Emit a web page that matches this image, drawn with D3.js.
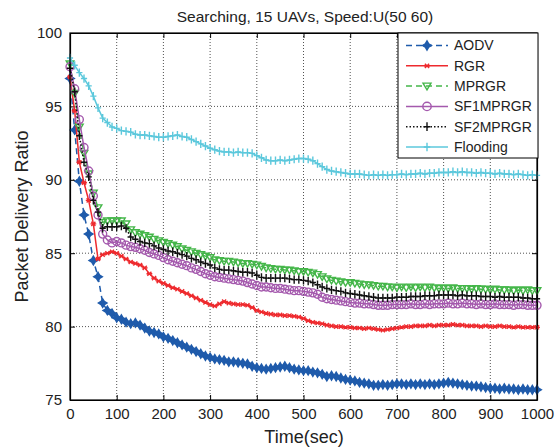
<!DOCTYPE html>
<html>
<head>
<meta charset="utf-8">
<script src="https://cdn.jsdelivr.net/npm/d3@7"></script>
<style>
  body { margin: 0; background: #fff; }
  svg text { font-family: "Liberation Sans", Arial, Helvetica, sans-serif; fill: #222; }
</style>
</head>
<body>
<div id="chart"></div>
<script>
// sample times (sec), one point every 10 s
const times = d3.range(0, 1001, 10);

const aodv = [96.9, 93.4, 89.9, 87.6, 86.3, 84.5, 83.4, 81.6, 81.1, 80.9,
  80.6, 80.5, 80.3, 80.2, 80.25, 80.1, 79.9, 79.7, 79.6, 79.5,
  79.3, 79.2, 79.05, 78.9, 78.75, 78.6, 78.45, 78.3, 78.15, 78.0,
  77.9, 77.8, 77.75, 77.7, 77.6, 77.6, 77.55, 77.5, 77.45, 77.3,
  77.2, 77.15, 77.1, 77.15, 77.2, 77.25, 77.3, 77.2, 77.1, 77.05,
  77.0, 77.0, 76.9, 76.85, 76.75, 76.6, 76.65, 76.6, 76.5, 76.4,
  76.35, 76.3, 76.2, 76.15, 76.1, 76.0, 76.0, 76.05, 76.0, 76.05,
  76.1, 76.1, 76.05, 76.1, 76.05, 76.1, 76.05, 76.1, 76.05, 76.1,
  76.15, 76.2, 76.15, 76.1, 76.05, 76.0, 75.95, 75.95, 75.9, 75.85,
  75.8, 75.8, 75.75, 75.8, 75.75, 75.75, 75.7, 75.75, 75.7, 75.7, 75.7];

const rgr = [97.0, 94.7, 91.2, 89.8, 88.6, 87.0, 84.6, 84.9, 85.0, 85.1,
  85.0, 84.8, 84.6, 84.4, 84.3, 84.2, 84.0, 83.6, 83.3, 83.1,
  82.95, 82.8, 82.65, 82.55, 82.4, 82.25, 82.1, 81.95, 81.8, 81.65,
  81.5, 81.4, 81.55, 81.7, 81.6, 81.55, 81.5, 81.5, 81.45, 81.3,
  81.1, 81.0, 80.9, 80.85, 80.8, 80.8, 80.75, 80.75, 80.7, 80.65,
  80.55, 80.4, 80.3, 80.25, 80.2, 80.1, 80.05, 80.0, 80.0, 79.95,
  79.95, 79.9, 79.9, 79.85, 79.9, 79.85, 79.8, 79.75, 79.8, 79.85,
  79.9, 79.95, 80.0, 80.0, 80.05, 80.05, 80.05, 80.1, 80.05, 80.1,
  80.1, 80.1, 80.15, 80.1, 80.1, 80.05, 80.05, 80.05, 80.0, 80.05,
  80.0, 80.0, 80.05, 80.0, 80.0, 79.95, 80.0, 79.95, 79.95, 79.95, 79.95];

const mprgr = [97.9, 95.9, 93.6, 91.8, 90.4, 89.1, 88.1, 87.1, 87.2, 87.2,
  87.2, 87.2, 87.0, 86.6, 86.4, 86.3, 86.2, 86.1, 85.95, 85.85,
  85.75, 85.65, 85.55, 85.45, 85.3, 85.2, 85.1, 85.0, 84.9, 84.8,
  84.7, 84.55, 84.5, 84.45, 84.45, 84.4, 84.35, 84.3, 84.3, 84.25,
  84.2, 84.1, 84.0, 83.95, 83.9, 83.9, 83.85, 83.85, 83.8, 83.75,
  83.75, 83.7, 83.65, 83.55, 83.4, 83.25, 83.15, 83.1, 83.05, 83.0,
  83.0, 82.95, 82.9, 82.85, 82.85, 82.8, 82.75, 82.75, 82.7, 82.7,
  82.65, 82.7, 82.65, 82.7, 82.65, 82.7, 82.65, 82.7, 82.65, 82.6,
  82.65, 82.6, 82.65, 82.6, 82.6, 82.6, 82.55, 82.6, 82.55, 82.55,
  82.5, 82.55, 82.5, 82.5, 82.5, 82.45, 82.5, 82.45, 82.5, 82.45, 82.45];

const sf1mprgr = [97.7, 96.2, 94.1, 92.2, 90.6, 88.9, 87.6, 86.3, 85.9, 85.7,
  85.8, 85.7, 85.55, 85.45, 85.4, 85.3, 85.2, 85.05, 84.95, 84.85,
  84.7, 84.55, 84.45, 84.35, 84.25, 84.15, 84.0, 83.9, 83.75, 83.6,
  83.5, 83.4, 83.35, 83.3, 83.25, 83.2, 83.15, 83.1, 83.0, 82.9,
  82.8, 82.7, 82.7, 82.65, 82.6, 82.6, 82.55, 82.5, 82.45, 82.45,
  82.4, 82.35, 82.3, 82.2, 82.0, 81.9, 81.85, 81.8, 81.75, 81.7,
  81.65, 81.6, 81.6, 81.55, 81.55, 81.5, 81.45, 81.45, 81.45, 81.5,
  81.5, 81.5, 81.5, 81.55, 81.5, 81.5, 81.55, 81.5, 81.55, 81.55,
  81.55, 81.6, 81.55, 81.55, 81.6, 81.55, 81.55, 81.5, 81.55, 81.5,
  81.5, 81.55, 81.5, 81.5, 81.5, 81.45, 81.5, 81.5, 81.45, 81.45, 81.45];

const sf2mprgr = [97.6, 96.0, 93.0, 91.2, 90.2, 88.6, 87.8, 86.7, 86.8, 86.8,
  86.8, 86.85, 86.7, 86.1, 85.95, 85.8, 85.7, 85.65, 85.5, 85.35,
  85.25, 85.15, 85.1, 85.0, 84.9, 84.8, 84.65, 84.55, 84.4, 84.3,
  84.2, 84.0, 83.9, 83.85, 83.85, 83.8, 83.75, 83.7, 83.7, 83.65,
  83.5, 83.35, 83.3, 83.3, 83.3, 83.3, 83.3, 83.25, 83.2, 83.2,
  83.15, 83.1, 83.0, 82.85, 82.7, 82.6, 82.5, 82.45, 82.4, 82.3,
  82.25, 82.2, 82.15, 82.1, 82.05, 82.0, 81.95, 81.95, 81.95, 81.95,
  82.0, 82.0, 82.0, 82.05, 82.05, 82.05, 82.1, 82.1, 82.1, 82.15,
  82.15, 82.15, 82.15, 82.1, 82.15, 82.1, 82.1, 82.1, 82.05, 82.05,
  82.05, 82.0, 82.05, 82.0, 82.0, 82.0, 82.0, 81.95, 81.95, 81.9, 81.9];

const flooding = [98.3, 97.8, 97.3, 96.9, 96.4, 95.7, 94.9, 94.2, 93.9, 93.6,
  93.5, 93.35, 93.3, 93.25, 93.1, 93.05, 93.05, 93.0, 92.95, 92.9,
  92.9, 92.95, 93.0, 93.05, 92.95, 92.9, 92.75, 92.6, 92.45, 92.3,
  92.15, 92.05, 91.95, 91.9, 91.9, 91.85, 91.9, 91.85, 91.85, 91.8,
  91.65, 91.5, 91.35, 91.3, 91.3, 91.35, 91.3, 91.35, 91.4, 91.45,
  91.45, 91.4, 91.3, 91.1, 90.9, 90.7, 90.6, 90.55, 90.5, 90.45,
  90.4, 90.4, 90.4, 90.35, 90.3, 90.35, 90.3, 90.35, 90.3, 90.35,
  90.35, 90.4, 90.35, 90.4, 90.4, 90.45, 90.4, 90.45, 90.45, 90.5,
  90.5, 90.5, 90.55, 90.5, 90.55, 90.5, 90.5, 90.45, 90.5, 90.45,
  90.45, 90.4, 90.45, 90.4, 90.4, 90.35, 90.4, 90.35, 90.3, 90.35, 90.3];

const seriesNames = ["AODV", "RGR", "MPRGR", "SF1MPRGR", "SF2MPRGR", "Flooding"];
const xTicks = [0, 100, 200, 300, 400, 500, 600, 700, 800, 900, 1000];
const yTicks = [75, 80, 85, 90, 95, 100];

const width = 559;
const height = 448;
const margin = { top: 33, right: 22, bottom: 48, left: 70 };

// custom stroke symbols (d3 symbol type interface)
const plusSym = {
  draw(ctx, size) {
    const r = Math.sqrt(size) / 2;
    ctx.moveTo(-r * 0.75, 0); ctx.lineTo(r * 0.75, 0);
    ctx.moveTo(0, -r); ctx.lineTo(0, r);
  }
};
const starSym = {
  draw(ctx, size) {
    const r = Math.sqrt(size) / 2;
    ctx.moveTo(-r, 0); ctx.lineTo(r, 0);
    ctx.moveTo(-r * 0.7, -r * 0.7); ctx.lineTo(r * 0.7, r * 0.7);
    ctx.moveTo(-r * 0.7, r * 0.7); ctx.lineTo(r * 0.7, -r * 0.7);
  }
};
const triDown = {
  draw(ctx, size) {
    const r = Math.sqrt(size) / 2;
    ctx.moveTo(-r, -r * 0.75); ctx.lineTo(r, -r * 0.75); ctx.lineTo(0, r * 0.95); ctx.closePath();
  }
};
// small filled four-point star, like the matlab diamond/star mix
const diamondStar = {
  draw(ctx, size) {
    const r = Math.sqrt(size) / 2;
    const k = r * 0.38;
    ctx.moveTo(0, -r); ctx.lineTo(k, -k); ctx.lineTo(r, 0); ctx.lineTo(k, k);
    ctx.lineTo(0, r); ctx.lineTo(-k, k); ctx.lineTo(-r, 0); ctx.lineTo(-k, -k);
    ctx.closePath();
  }
};

const styles = {
  AODV:     { color: "#1f5bab", dash: "6,4", sym: diamondStar, size: 75, fill: true, sw: 1.5 },
  RGR:      { color: "#ee2a2e", dash: null, sym: starSym, size: 34, fill: false, sw: 1.5 },
  MPRGR:    { color: "#44b649", dash: "6,4", sym: triDown, size: 58, fill: false, sw: 1.5 },
  SF1MPRGR: { color: "#a459ad", dash: null, sym: d3.symbolCircle, size: 50, fill: false, sw: 1.5 },
  SF2MPRGR: { color: "#111111", dash: "1.5,2", sym: plusSym, size: 70, fill: false, sw: 1.5 },
  Flooding: { color: "#5cc8dc", dash: null, sym: plusSym, size: 68, fill: false, sw: 1.5 },
};

const seriesData = [aodv, rgr, mprgr, sf1mprgr, sf2mprgr, flooding].map((vals, i) => ({
  name: seriesNames[i],
  values: vals.map((v, j) => ({ t: times[j], v: v })),
}));

const svg = d3.select("#chart").append("svg")
  .attr("width", width).attr("height", height);

const x = d3.scaleLinear().domain([0, 1000]).range([margin.left, width - margin.right]);
const y = d3.scaleLinear().domain([75, 100]).range([height - margin.bottom, margin.top]);

// grid
const grid = svg.append("g").attr("stroke", "#000").attr("stroke-width", 0.8)
  .attr("stroke-dasharray", "1,2").attr("opacity", 0.85);
grid.selectAll(".gx").data(xTicks.slice(1, -1)).enter().append("line")
  .attr("x1", (d) => x(d)).attr("x2", (d) => x(d))
  .attr("y1", y(75)).attr("y2", y(100));
grid.selectAll(".gy").data(yTicks.slice(1, -1)).enter().append("line")
  .attr("x1", x(0)).attr("x2", x(1000))
  .attr("y1", (d) => y(d)).attr("y2", (d) => y(d));

// axes
const xAxis = svg.append("g").attr("transform", `translate(0,${y(75)})`)
  .call(d3.axisBottom(x).tickValues(xTicks).tickFormat(d3.format("d"))
    .tickSizeInner(-5).tickSizeOuter(0).tickPadding(8));
const yAxis = svg.append("g").attr("transform", `translate(${x(0)},0)`)
  .call(d3.axisLeft(y).tickValues(yTicks).tickSizeInner(-5).tickSizeOuter(0).tickPadding(8));
svg.append("g").attr("transform", `translate(0,${y(100)})`)
  .call(d3.axisTop(x).tickValues(xTicks).tickSizeInner(-5).tickSizeOuter(0).tickFormat(""));
svg.append("g").attr("transform", `translate(${x(1000)},0)`)
  .call(d3.axisRight(y).tickValues(yTicks).tickSizeInner(-5).tickSizeOuter(0).tickFormat(""));
svg.selectAll(".domain").attr("stroke", "#000").attr("stroke-width", 1.2);
svg.selectAll(".tick line").attr("stroke", "#000");
xAxis.selectAll("text").attr("font-size", 15).attr("fill", "#222");
yAxis.selectAll("text").attr("font-size", 15).attr("fill", "#222");

// series
const line = d3.line().x((d) => x(d.t)).y((d) => y(d.v));
const plot = svg.append("g");
seriesData.forEach((s) => {
  const st = styles[s.name];
  plot.append("path").datum(s.values)
    .attr("d", line).attr("fill", "none")
    .attr("stroke", st.color).attr("stroke-width", st.sw)
    .attr("stroke-dasharray", st.dash);
  plot.append("g").selectAll("path").data(s.values).enter().append("path")
    .attr("transform", (d) => `translate(${x(d.t)},${y(d.v)})`)
    .attr("d", d3.symbol(st.sym, st.size))
    .attr("fill", st.fill ? st.color : "none")
    .attr("stroke", st.color).attr("stroke-width", 1.4);
});

// frame on top
svg.append("rect").attr("x", x(0)).attr("y", y(100))
  .attr("width", x(1000) - x(0)).attr("height", y(75) - y(100))
  .attr("fill", "none").attr("stroke", "#000").attr("stroke-width", 1.2);

// legend
const legend = svg.append("g").attr("transform", "translate(398,33)");
legend.append("rect").attr("width", 140).attr("height", 125)
  .attr("fill", "#fff").attr("stroke", "#000").attr("stroke-width", 1);
seriesNames.forEach((name, i) => {
  const st = styles[name];
  const ly = 12.5 + i * 20.3;
  legend.append("line").attr("x1", 8).attr("x2", 50).attr("y1", ly).attr("y2", ly)
    .attr("stroke", st.color).attr("stroke-width", st.sw).attr("stroke-dasharray", st.dash);
  legend.append("path").attr("transform", `translate(29,${ly})`)
    .attr("d", d3.symbol(st.sym, st.size * 1.1))
    .attr("fill", st.fill ? st.color : "none")
    .attr("stroke", st.color).attr("stroke-width", 1.4);
  legend.append("text").attr("x", 56).attr("y", ly).attr("dy", "0.35em")
    .attr("font-size", 14).text(name);
});

// titles
svg.append("text").attr("x", 305).attr("y", 22).attr("text-anchor", "middle")
  .attr("font-size", 15.5).text("Searching, 15 UAVs, Speed:U(50 60)");
svg.append("text").attr("x", 304).attr("y", 443).attr("text-anchor", "middle")
  .attr("font-size", 18).text("Time(sec)");
svg.append("text").attr("transform", `translate(28,${(y(75) + y(100)) / 2}) rotate(-90)`)
  .attr("text-anchor", "middle").attr("font-size", 18).text("Packet Delivery Ratio");
</script>
</body>
</html>
